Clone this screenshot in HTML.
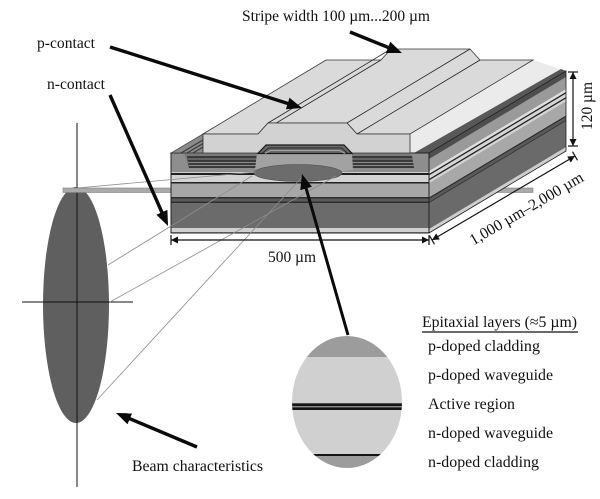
<!DOCTYPE html>
<html><head><meta charset="utf-8"><style>html,body{margin:0;padding:0;background:#fff;}svg{display:block;}</style></head>
<body>
<svg width="600" height="499" viewBox="0 0 600 499" xmlns="http://www.w3.org/2000/svg" font-family="'Liberation Serif', serif">
<rect width="600" height="499" fill="#fff"/>
<defs><clipPath id="c"><ellipse cx="347" cy="402" rx="55" ry="66"/></clipPath></defs>

<!-- beam ellipse -->
<ellipse cx="76" cy="305" rx="33" ry="118" fill="#5f5f5f"/>
<line x1="77" y1="123" x2="77" y2="487" stroke="#111" stroke-width="1"/>
<line x1="22" y1="302" x2="133" y2="302" stroke="#111" stroke-width="1"/>

<!-- bar -->
<rect x="63" y="188" width="470" height="4.5" fill="#aaa" stroke="#808080" stroke-width="0.6"/>

<!-- top right region -->
<polygon points="410,134 533,60 566,71 429,153 410,153" fill="#ebebeb"/>
<polygon points="414,153 561,69 566,71 429,153" fill="#585858"/>

<!-- side face -->
<polygon points="429,153 566,71 566,151 429,233" fill="#6a6a6a"/>
<polygon points="429,153 566,71 566,77 429,159" fill="#4e4e4e"/>
<polygon points="429,159 566,77 566,89 429,171" fill="#9a9a9a"/>
<polygon points="429,171 566,89 566,92 429,174" fill="#dedede"/>
<polygon points="429,174 566,92 566,93.5 429,175.5" fill="#222"/>
<polygon points="429,175.5 566,93.5 566,97 429,179" fill="#d6d6d6"/>
<polygon points="429,179 566,97 566,98.5 429,180.5" fill="#222"/>
<polygon points="429,180.5 566,98.5 566,101.5 429,183.5" fill="#d2d2d2"/>
<polygon points="429,183.5 566,101.5 566,115.5 429,197.5" fill="#a8a8a8"/>
<polygon points="429,197.5 566,115.5 566,117 429,199" fill="#2e2e2e"/>
<polygon points="429,199 566,117 566,120 429,202" fill="#5a5a5a"/>
<polygon points="429,202 566,120 566,121 429,203" fill="#333"/>
<polygon points="429,229 566,147 566,151 429,233" fill="#cecece"/>
<polygon points="429,153 566,71 566,151 429,233" fill="none" stroke="#222" stroke-width="0.8"/>

<!-- front face -->
<rect x="171" y="153" width="258" height="80" fill="#8e8e8e"/>
<rect x="171" y="172" width="258" height="1" fill="#d0d0d0"/>
<rect x="171" y="173" width="258" height="2" fill="#1e1e1e"/>
<rect x="171" y="175" width="258" height="7" fill="#d3d3d3"/>
<rect x="171" y="182" width="258" height="1.5" fill="#222"/>
<rect x="171" y="183.5" width="258" height="13.5" fill="#a7a7a7"/>
<rect x="171" y="197" width="258" height="1.5" fill="#2e2e2e"/>
<rect x="171" y="198.5" width="258" height="3" fill="#5a5a5a"/>
<rect x="171" y="201.5" width="258" height="1.5" fill="#2e2e2e"/>
<rect x="171" y="203" width="258" height="25" fill="#6b6b6b"/>
<rect x="171" y="228" width="258" height="4" fill="#d0d0d0"/>
<rect x="171" y="153" width="258" height="80" fill="none" stroke="#222" stroke-width="1"/>

<!-- trenches -->
<polygon points="184,153 258,153 258,168 189,168" fill="#7a7a7a"/>
<polygon points="187,156 258,156 258,168 189,168" fill="#3a3a3a"/>
<g stroke="#8d8d8d" stroke-width="1">
<line x1="188" y1="159" x2="258" y2="159"/>
<line x1="188" y1="162.5" x2="258" y2="162.5"/>
<line x1="189" y1="165.5" x2="258" y2="165.5"/>
</g>
<polygon points="344,153 411,153 414,168 348,168" fill="#7a7a7a"/>
<polygon points="345,156 412,156 414,168 348,168" fill="#3a3a3a"/>
<g stroke="#8d8d8d" stroke-width="1">
<line x1="346" y1="159" x2="412.5" y2="159"/>
<line x1="347" y1="162.5" x2="413" y2="162.5"/>
<line x1="348" y1="165.5" x2="413.5" y2="165.5"/>
</g>

<!-- dome under ridge -->
<path d="M257,153 L352,153 L353,170 Q300,178 255,170 Z" fill="#a2a2a2"/>

<!-- left bevel -->
<polygon points="171,153 203,134 203,153" fill="#8a8a8a" stroke="#333" stroke-width="0.7"/>
<g stroke="#3a3a3a" stroke-width="1.1">
<line x1="181" y1="153" x2="203" y2="140"/>
<line x1="187" y1="153" x2="203" y2="143.5"/>
<line x1="193" y1="153" x2="203" y2="147"/>
</g>

<!-- slab top -->
<polygon points="203,134 326,60 381,60 391,49 470,49 480,60 533,60 410,134 357,134 347,123 268,123 258,134" fill="#dadada" stroke="#333" stroke-width="0.8"/>
<g stroke="#222" stroke-width="0.8">
<line x1="258" y1="134" x2="381" y2="60"/>
<line x1="268" y1="123" x2="391" y2="49"/>
<line x1="347" y1="123" x2="470" y2="49"/>
<line x1="357" y1="134" x2="480" y2="60"/>
</g>
<!-- slab front -->
<polygon points="203,134 258,134 268,123 347,123 357,134 410,134 410,153 352,153 344,145 266,145 258,153 203,153" fill="#d2d2d2" stroke="#333" stroke-width="0.8"/>
<!-- ridge layers -->
<polygon points="258,153.5 266,145 344,145 352,153.5" fill="#6a6a6a" stroke="#1a1a1a" stroke-width="1.2"/>
<polyline points="262,153.5 268.5,148 341.5,148 348,153.5" fill="none" stroke="#2a2a2a" stroke-width="1"/>
<polyline points="265,153.5 270.5,150.5 339.5,150.5 345,153.5" fill="none" stroke="#a0a0a0" stroke-width="1"/>

<!-- active region -->
<ellipse cx="298" cy="173" rx="44" ry="8.5" fill="#6c6c6c" stroke="#4a4a4a" stroke-width="0.6"/>

<!-- rays -->
<g stroke="#8c8c8c" stroke-width="0.8" fill="none">
<line x1="77" y1="188" x2="256" y2="172"/>
<line x1="108" y1="265" x2="252" y2="176"/>
<line x1="110" y1="302" x2="336" y2="176"/>
<line x1="97" y1="400" x2="303" y2="176"/>
</g>

<!-- dimension 500um -->
<g stroke="#111" stroke-width="1.2">
<line x1="171" y1="240" x2="429" y2="240"/>
<line x1="171" y1="235" x2="171" y2="245"/>
<line x1="429" y1="235" x2="429" y2="245"/>
<line x1="432" y1="240" x2="575" y2="156"/>
<line x1="429.5" y1="235.7" x2="434.5" y2="244.3"/>
<line x1="572.5" y1="151.7" x2="577.5" y2="160.3"/>
<line x1="573" y1="72" x2="573" y2="146"/>
<line x1="568" y1="72" x2="578" y2="72"/>
<line x1="568" y1="146" x2="578" y2="146"/>
</g>
<g fill="#111">
<polygon points="171,240 178,236.5 178,243.5"/>
<polygon points="429,240 422,236.5 422,243.5"/>
<polygon points="432,240 436.2,233.5 439.8,239.5"/>
<polygon points="575,156 570.8,162.5 567.2,156.5"/>
<polygon points="573,72 569.5,79 576.5,79"/>
<polygon points="573,146 569.5,139 576.5,139"/>
</g>

<!-- epitaxial circle -->
<g clip-path="url(#c)">
<rect x="288" y="330" width="120" height="27" fill="#9c9c9c"/>
<rect x="288" y="357" width="120" height="46.3" fill="#d0d0d0"/>
<rect x="288" y="403.3" width="120" height="2.7" fill="#151515"/>
<rect x="288" y="406" width="120" height="1.3" fill="#888"/>
<rect x="288" y="407.3" width="120" height="2.7" fill="#151515"/>
<rect x="288" y="410" width="120" height="44" fill="#d0d0d0"/>
<rect x="288" y="454" width="120" height="2" fill="#151515"/>
<rect x="288" y="456" width="120" height="16" fill="#9c9c9c"/>
</g>

<!-- big arrows -->
<g stroke="#0a0a0a" stroke-width="3.4" stroke-linecap="butt">
<line x1="110" y1="47" x2="290.6" y2="104.4"/>
<line x1="110" y1="95" x2="163.1" y2="215"/>
<line x1="350" y1="32" x2="390.9" y2="48.5"/>
<line x1="197" y1="447" x2="127.1" y2="417.6"/>
<line x1="348" y1="335" x2="305.3" y2="185.5" stroke-width="3"/>
</g>
<g fill="#0a0a0a">
<polygon points="302,108 285.9,109.2 289.5,97.8"/>
<polygon points="168,226 156.4,214.7 167.4,209.9"/>
<polygon points="402,53 385.9,53 390.3,41.8"/>
<polygon points="116,413 132.1,413.3 127.5,424.3"/>
<polygon points="302,174 311.9,186.8 300.3,190.1"/>
</g>

<!-- text -->
<g fill="#111" font-size="16">
<text x="242" y="21" textLength="188" lengthAdjust="spacingAndGlyphs">Stripe width 100 µm...200 µm</text>
<text x="37" y="48" textLength="58" lengthAdjust="spacingAndGlyphs">p-contact</text>
<text x="47" y="89" textLength="58" lengthAdjust="spacingAndGlyphs">n-contact</text>
<text x="268" y="262" textLength="48" lengthAdjust="spacingAndGlyphs">500 µm</text>
<text x="132" y="471" textLength="131" lengthAdjust="spacingAndGlyphs">Beam characteristics</text>
<text x="422" y="327" textLength="155" lengthAdjust="spacingAndGlyphs">Epitaxial layers (≈5 µm)</text>
<text x="428" y="351" textLength="112" lengthAdjust="spacingAndGlyphs">p-doped cladding</text>
<text x="428" y="380" textLength="125" lengthAdjust="spacingAndGlyphs">p-doped waveguide</text>
<text x="428" y="409" textLength="87" lengthAdjust="spacingAndGlyphs">Active region</text>
<text x="428" y="438" textLength="125" lengthAdjust="spacingAndGlyphs">n-doped waveguide</text>
<text x="428" y="467" textLength="111" lengthAdjust="spacingAndGlyphs">n-doped cladding</text>
<text transform="translate(592,106) rotate(-90)" text-anchor="middle" textLength="48" lengthAdjust="spacingAndGlyphs">120 µm</text>
<text transform="translate(529,213) rotate(-30.4)" text-anchor="middle" textLength="129" lengthAdjust="spacingAndGlyphs">1,000 µm–2,000 µm</text>
</g>
<line x1="422" y1="332" x2="578" y2="332" stroke="#111" stroke-width="1.3"/>
</svg>
</body></html>
